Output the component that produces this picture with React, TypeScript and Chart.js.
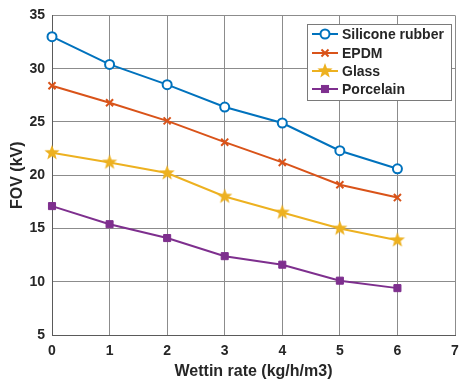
import React, { useEffect, useRef } from "react";
import { Chart, registerables } from "chart.js";

Chart.register(...registerables);

const xValues = [0, 1, 2, 3, 4, 5, 6];
const siliconeRubber = [33.0, 30.4, 28.5, 26.4, 24.9, 22.3, 20.6];
const epdm = [28.4, 26.8, 25.1, 23.1, 21.2, 19.1, 17.9];
const glass = [22.1, 21.2, 20.2, 18.0, 16.5, 15.0, 13.9];
const porcelain = [17.1, 15.4, 14.1, 12.4, 11.6, 10.1, 9.4];
const seriesNames = ["Silicone rubber", "EPDM", "Glass", "Porcelain"];
const xTitle = "Wettin rate (kg/h/m3)";
const yTitle = "FOV (kV)";

const COLORS = ["#0072BD", "#D95319", "#EDB120", "#7E2F8E"];
const FONT = "'Liberation Sans', Arial, sans-serif";
const TEXT = "#262626";

function makeStar(color: string, r: number): HTMLCanvasElement {
  const c = document.createElement("canvas");
  const s = Math.ceil(2 * r + 2);
  c.width = s;
  c.height = s;
  const ctx = c.getContext("2d")!;
  const cx = s / 2, cy = s / 2;
  ctx.beginPath();
  for (let i = 0; i < 10; i++) {
    const rr = i % 2 === 0 ? r : r * 0.42;
    const a = -Math.PI / 2 + (i * Math.PI) / 5;
    const px = cx + rr * Math.cos(a);
    const py = cy + rr * Math.sin(a);
    if (i === 0) ctx.moveTo(px, py);
    else ctx.lineTo(px, py);
  }
  ctx.closePath();
  ctx.fillStyle = color;
  ctx.fill();
  return c;
}

const pts = (vals: number[]) => vals.map((v, i) => ({ x: xValues[i], y: v }));

function drawMarker(ctx: CanvasRenderingContext2D, o: any, x: number, y: number) {
  const ps = o.pointStyle;
  const r = o.radius;
  ctx.save();
  ctx.lineWidth = o.borderWidth;
  ctx.strokeStyle = o.borderColor;
  ctx.fillStyle = o.backgroundColor;
  if (ps instanceof HTMLCanvasElement) {
    ctx.drawImage(ps, x - ps.width / 2, y - ps.height / 2);
  } else if (ps === "circle") {
    ctx.beginPath();
    ctx.arc(x, y, r, 0, Math.PI * 2);
    ctx.fill();
    ctx.stroke();
  } else if (ps === "crossRot") {
    const d = r * Math.SQRT1_2;
    ctx.beginPath();
    ctx.moveTo(x - d, y - d);
    ctx.lineTo(x + d, y + d);
    ctx.moveTo(x - d, y + d);
    ctx.lineTo(x + d, y - d);
    ctx.stroke();
  } else {
    const d = r * Math.SQRT1_2;
    ctx.fillRect(x - d, y - d, 2 * d, 2 * d);
    ctx.strokeRect(x - d, y - d, 2 * d, 2 * d);
  }
  ctx.restore();
}

export default function App() {
  const ref = useRef<HTMLCanvasElement | null>(null);
  useEffect(() => {
    document.body.style.margin = "0";
    const star = makeStar(COLORS[2], 8);
    const legendPlugin = {
      id: "boxLegend",
      afterDraw(chart: any) {
        const ctx = chart.ctx;
        const bx = 307, by = 24, bw = 144, bh = 76;
        ctx.save();
        ctx.fillStyle = "#ffffff";
        ctx.fillRect(bx, by, bw, bh);
        ctx.strokeStyle = "#7a7a7a";
        ctx.lineWidth = 1;
        ctx.strokeRect(bx + 0.5, by + 0.5, bw, bh);
        const ys = [34, 53, 71, 89];
        chart.data.datasets.forEach((ds: any, i: number) => {
          const y = ys[i];
          ctx.strokeStyle = ds.borderColor;
          ctx.lineWidth = 2;
          ctx.beginPath();
          ctx.moveTo(312, y);
          ctx.lineTo(338, y);
          ctx.stroke();
          const el = chart.getDatasetMeta(i).data[0];
          if (el) drawMarker(ctx, el.options, 325, y);
          ctx.fillStyle = TEXT;
          ctx.font = `bold 14px ${FONT}`;
          ctx.textBaseline = "middle";
          ctx.textAlign = "left";
          ctx.fillText(ds.label, 342, y + 1);
        });
        ctx.restore();
      },
    };

    const chart = new Chart(ref.current!, {
      type: "line",
      data: {
        datasets: [
          {
            label: seriesNames[0],
            data: pts(siliconeRubber),
            borderColor: COLORS[0],
            backgroundColor: "#ffffff",
            borderWidth: 2,
            pointStyle: "circle",
            pointRadius: 4.5,
            pointBorderWidth: 2,
            clip: false,
          },
          {
            label: seriesNames[1],
            data: pts(epdm),
            borderColor: COLORS[1],
            backgroundColor: COLORS[1],
            borderWidth: 2,
            pointStyle: "crossRot",
            pointRadius: 5,
            pointBorderWidth: 2,
            clip: false,
          },
          {
            label: seriesNames[2],
            data: pts(glass),
            borderColor: COLORS[2],
            backgroundColor: COLORS[2],
            borderWidth: 2,
            pointStyle: star as any,
            pointRadius: 7,
            pointBorderWidth: 0,
            clip: false,
          },
          {
            label: seriesNames[3],
            data: pts(porcelain),
            borderColor: COLORS[3],
            backgroundColor: COLORS[3],
            borderWidth: 2,
            pointStyle: "rect",
            pointRadius: 5,
            pointBorderWidth: 1,
            clip: false,
          },
        ],
      },
      options: {
        responsive: false,
        animation: false,
        devicePixelRatio: 1,
        layout: { padding: { left: 0, right: 1, top: 12, bottom: 0 } },
        plugins: {
          legend: { display: false },
          tooltip: { enabled: false },
        },
        scales: {
          x: {
            type: "linear",
            min: 0,
            max: 7,
            ticks: {
              stepSize: 1,
              padding: 8,
              color: TEXT,
              font: { family: FONT, size: 14, weight: "bold" },
            },
            grid: { color: "#8c8c8c", drawTicks: false, lineWidth: 1 },
            border: { color: "#5a5a5a", width: 1 },
            title: {
              display: true,
              text: xTitle,
              color: TEXT,
              padding: 1,
              font: { family: FONT, size: 16, weight: "bold" },
            },
            afterFit(scale: any) {
              scale.height = 47;
              scale.paddingLeft = 0;
              scale.paddingRight = 0;
            },
          },
          y: {
            min: 5,
            max: 35,
            ticks: {
              stepSize: 5,
              padding: 7,
              color: TEXT,
              font: { family: FONT, size: 14, weight: "bold" },
            },
            grid: { color: "#8c8c8c", drawTicks: false, lineWidth: 1 },
            border: { color: "#5a5a5a", width: 1 },
            title: {
              display: true,
              text: yTitle,
              color: TEXT,
              padding: 8,
              font: { family: FONT, size: 16, weight: "bold" },
            },
            afterFit(scale: any) {
              scale.width = 52;
            },
          },
        },
      },
      plugins: [legendPlugin],
    } as any);
    return () => chart.destroy();
  }, []);
  return <canvas ref={ref} width={462} height={382} style={{ display: "block" }} />;
}
